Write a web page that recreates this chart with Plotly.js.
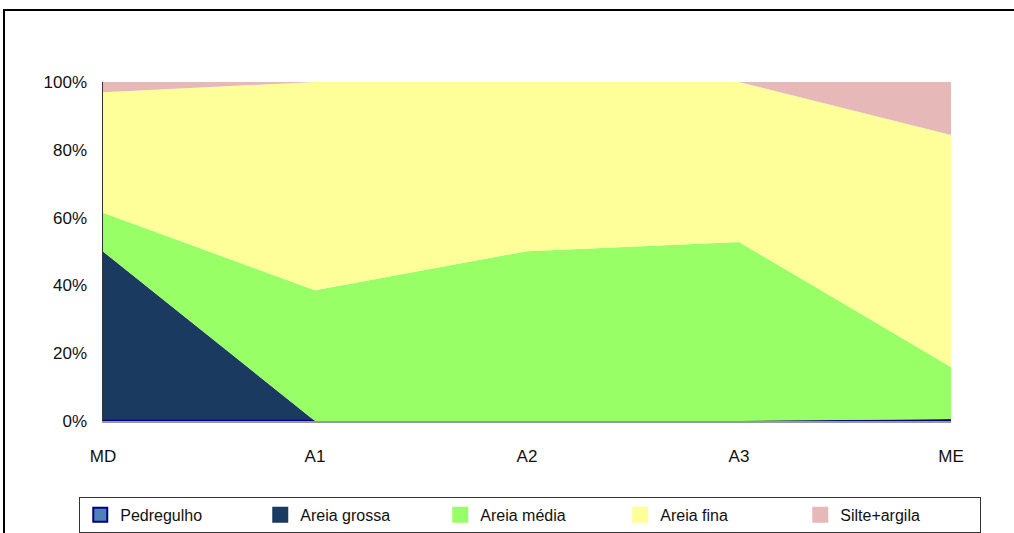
<!DOCTYPE html>
<html>
<head>
<meta charset="utf-8">
<script src="https://cdn.plot.ly/plotly-3.0.1.min.js"></script>
<style>
  html, body { margin: 0; padding: 0; background: #fff; }
  #wrap { position: relative; width: 1014px; height: 533px; overflow: hidden; }
  #chart { position: absolute; left: 0; top: 0; width: 1014px; height: 533px; }
  #frame { position: absolute; left: 3px; top: 9px; width: 1100px; height: 600px;
           border-top: 2px solid #000; border-left: 2px solid #000; pointer-events: none; }
</style>
</head>
<body>
<div id="wrap">
  <div id="chart"></div>
  <div id="frame"></div>
</div>
<script>
const categories = ['MD', 'A1', 'A2', 'A3', 'ME'];
const pedregulho  = [0, 0, 0, 0, 0];
const areiaGrossa = [50, 0, 0, 0, 0.6];
const areiaMedia  = [11.4, 38.6, 50.1, 52.8, 15.3];
const areiaFina   = [35.6, 61.4, 49.9, 47.2, 68.5];
const silteArgila = [3, 0, 0, 0, 15.6];
const yTicks = [0, 20, 40, 60, 80, 100];

const seriesDefs = [
  {name: 'Pedregulho',   y: pedregulho,  fill: '#4F81BD', line: '#000080', w: 2.5, mline: '#000080'},
  {name: 'Areia grossa', y: areiaGrossa, fill: '#1B3A5F', line: '#1B3A5F', w: 0, mline: '#1B3A5F'},
  {name: 'Areia média',  y: areiaMedia,  fill: '#99FF66', line: '#99FF66', w: 0, mline: '#99FF66'},
  {name: 'Areia fina',   y: areiaFina,   fill: '#FFFF99', line: '#FFFF99', w: 0, mline: '#FFFF99'},
  {name: 'Silte+argila', y: silteArgila, fill: '#E6B9B8', line: '#E6B9B8', w: 0, mline: '#E6B9B8'}
];

const areaTraces = seriesDefs.map(s => ({
  type: 'scatter',
  mode: 'lines',
  x: categories,
  y: s.y,
  name: s.name,
  stackgroup: 'one',
  fillcolor: s.fill,
  line: {color: s.line, width: s.w},
  showlegend: false,
  hoverinfo: 'skip'
}));

// legend-only entries (square swatches like the original)
const legendTraces = seriesDefs.map(s => ({
  type: 'scatter',
  mode: 'markers',
  x: [null],
  y: [null],
  name: s.name,
  marker: {symbol: 'square', size: 14, color: s.fill, line: {color: s.mline, width: 2}},
  showlegend: true,
  hoverinfo: 'skip'
}));

const layout = {
  width: 1014, height: 533,
  margin: {l: 103, r: 63, t: 82, b: 112, autoexpand: false},
  paper_bgcolor: '#fff', plot_bgcolor: '#fff',
  font: {family: 'Liberation Sans, Arial, sans-serif', size: 17, color: '#111'},
  showlegend: true,
  xaxis: {
    type: 'category',
    range: [0, 4],
    showgrid: false, zeroline: false,
    showline: true, linecolor: '#999', linewidth: 1.5,
    ticks: '', ticklabelstandoff: 19,
    tickfont: {size: 17}
  },
  yaxis: {
    range: [0, 100],
    tickvals: yTicks,
    ticktext: yTicks.map(v => v + '%'),
    showgrid: false, zeroline: false,
    showline: true, linecolor: '#333', linewidth: 1.5,
    ticks: '', ticklabelstandoff: 11,
    tickfont: {size: 17}
  },
  legend: {
    orientation: 'h',
    x: -0.028, xanchor: 'left',
    y: -0.224, yanchor: 'top',
    bgcolor: '#fff',
    bordercolor: '#333', borderwidth: 1,
    itemwidth: 30,
    entrywidth: 135, entrywidthmode: 'pixels',
    font: {size: 16, color: '#111'},
    traceorder: 'normal',
    itemclick: false
  }
};

Plotly.newPlot('chart', areaTraces.concat(legendTraces), layout, {staticPlot: true, displayModeBar: false});
</script>
</body>
</html>
